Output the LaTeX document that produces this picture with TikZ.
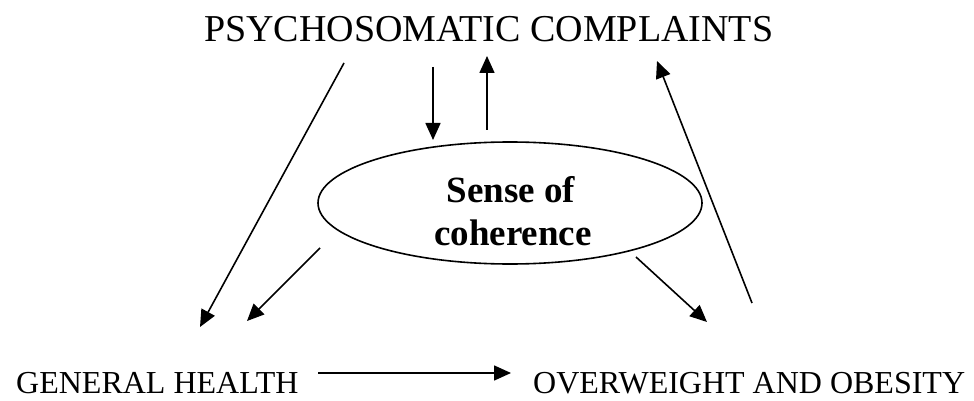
\documentclass[tikz,border=0pt]{standalone}
\usepackage{fontspec}
\setmainfont{Liberation Serif}
\usetikzlibrary{arrows.meta,shapes.geometric}
\begin{document}
\begin{tikzpicture}[x=1pt,y=-1pt,
  conn/.style={line width=1.6pt,-{Triangle[length=17pt,width=15pt]}},
  lbl/.style={inner sep=0pt,anchor=base west}]
\useasboundingbox (0,0) rectangle (974,401);
% texts
\node[lbl,font=\fontsize{38}{43}\selectfont] (psc) at (204,42) {PSYCHOSOMATIC COMPLAINTS};
\node[lbl,font=\fontsize{32}{38}\selectfont] (gh) at (16,393) {GENERAL HEALTH};
\node[lbl,font=\fontsize{32}{38}\selectfont] (ow) at (533,393) {OVERWEIGHT AND OBESITY};
% ellipse
\node[draw,ellipse,line width=1.6pt,minimum width=384pt,minimum height=122pt,inner sep=0pt] (soc) at (510,203) {};
\node[inner sep=0pt,anchor=base,font=\bfseries\fontsize{37}{43}\selectfont] (soc1) at (511,202) {Sense of};
\begin{scope}
\clip (0,0) rectangle (974,247);
\node[inner sep=0pt,anchor=base,font=\bfseries\fontsize{37}{43}\selectfont] (soc2) at (513,245) {coherence};
\end{scope}
% connector end points
\coordinate (a1) at (344,63);  \coordinate (b1) at (200,327);
\coordinate (a2) at (320,248); \coordinate (b2) at (247,321);
\coordinate (a3) at (433,67);  \coordinate (b3) at (433,140);
\coordinate (a4) at (487,130); \coordinate (b4) at (487,56);
\coordinate (a5) at (752,303); \coordinate (b5) at (657,61);
\coordinate (a6) at (636,257); \coordinate (b6) at (707,322);
\coordinate (a7) at (318,373); \coordinate (b7) at (511,373);
\draw[conn] (a1) -- (b1);
\draw[conn] (a2) -- (b2);
\draw[conn] (a3) -- (b3);
\draw[conn] (a4) -- (b4);
\draw[conn] (a5) -- (b5);
\draw[conn] (a6) -- (b6);
\draw[conn] (a7) -- (b7);
\end{tikzpicture}
\end{document}
